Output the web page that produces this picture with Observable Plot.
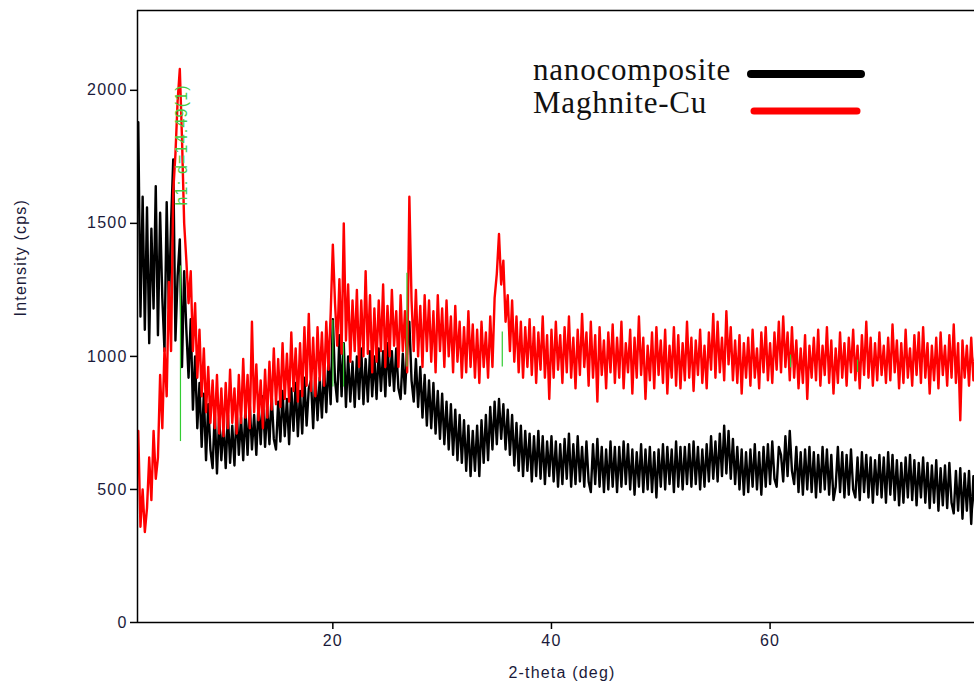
<!DOCTYPE html>
<html>
<head>
<meta charset="utf-8">
<script src="https://cdn.jsdelivr.net/npm/d3@7"></script>
<script src="https://cdn.jsdelivr.net/npm/@observablehq/plot@0.6"></script>
<style>
  html, body { margin: 0; padding: 0; background: #fff; }
  #chart { position: relative; width: 974px; height: 686px; overflow: hidden; }
  #chart svg text { letter-spacing: 1.2px; }
</style>
</head>
<body>
<div id="chart"></div>
<script>
// 2-theta sampling of the scans (degrees)
const thetaStart = 2.2;
const thetaStep = 0.2;

// Intensity (cps), one value per 0.2° step, one line per degree
const nanocomposite = [
  1880, 1150, 1600, 1100,
  1560, 1050, 1480, 1180, 1640,
  1080, 1540, 1220, 1020, 1580,
  1180, 1500, 1740, 1060, 1300,
  1440, 960, 1320, 1100, 920,
  1140, 800, 1000, 730, 900,
  660, 860, 610, 820, 650,
  580, 790, 560, 770, 610,
  750, 580, 780, 600, 740,
  590, 800, 630, 770, 610,
  800, 630, 820, 650, 780,
  630, 820, 670, 850, 660,
  810, 670, 860, 690, 650,
  830, 680, 870, 700, 840,
  670, 880, 720, 900, 700,
  870, 710, 920, 740, 880,
  910, 730, 940, 760, 920,
  770, 960, 790, 990, 820,
  1140, 910, 830, 1080, 850,
  1050, 810, 1000, 830, 980,
  810, 1000, 840, 1030, 820,
  990, 830, 1020, 850, 1000,
  840, 1030, 870, 1020, 850,
  1050, 890, 1020, 870, 1030,
  880, 840, 1010, 860, 1030,
  1130, 910, 830, 990, 810,
  960, 770, 930, 740, 910,
  730, 900, 710, 870, 690,
  860, 670, 830, 650, 820,
  630, 800, 610, 780, 600,
  760, 570, 740, 550, 720,
  570, 740, 550, 760, 600,
  780, 610, 810, 650, 830,
  670, 840, 690, 820, 650,
  800, 630, 780, 590, 750,
  570, 740, 550, 720, 570,
  710, 530, 700, 550, 720,
  540, 700, 520, 680, 550,
  700, 530, 680, 510, 670,
  520, 690, 540, 710, 510,
  670, 520, 700, 530, 660,
  510, 680, 530, 490, 670,
  520, 690, 510, 660, 490,
  650, 500, 680, 510, 660,
  490, 660, 510, 680, 520,
  670, 500, 650, 480, 640,
  510, 670, 490, 650, 500,
  660, 490, 640, 470, 650,
  510, 670, 500, 660, 520,
  650, 490, 680, 510, 660,
  500, 660, 520, 670, 510,
  680, 520, 660, 500, 650,
  510, 670, 530, 700, 540,
  680, 530, 710, 550, 740,
  560, 720, 540, 690, 520,
  660, 500, 650, 480, 640,
  490, 650, 510, 670, 500,
  640, 480, 660, 510, 670,
  520, 680, 540, 510, 660,
  630, 530, 700, 550, 720,
  570, 520, 660, 490, 640,
  480, 650, 500, 660, 490,
  640, 470, 630, 490, 660,
  500, 650, 480, 630, 460,
  510, 660, 490, 640, 470,
  630, 480, 650, 500, 470,
  620, 460, 640, 490, 630,
  470, 620, 450, 610, 480,
  630, 470, 620, 450, 640,
  480, 630, 460, 610, 440,
  600, 450, 620, 470, 630,
  460, 610, 440, 600, 470,
  620, 450, 600, 430, 590,
  450, 610, 420, 580, 440,
  590, 430, 600, 450, 410,
  570, 420, 580, 390, 560,
  420, 570, 370, 550, 400
];

const maghniteCu = [
  720, 360, 500, 340,
  430, 620, 460, 720, 540,
  620, 930, 730, 1030, 850,
  1280, 1020, 1620, 1760, 1960,
  2080, 1820, 1500, 1360, 1200,
  1320, 1020, 1200, 920, 1100,
  850, 1030, 790, 960, 750,
  910, 730, 930, 710, 880,
  700, 900, 730, 950, 750,
  880, 710, 930, 750, 990,
  770, 930, 730, 1130, 790,
  970, 760, 910, 730, 950,
  770, 980, 800, 1030, 820,
  990, 810, 1050, 840, 1010,
  830, 1090, 870, 1030, 830,
  1050, 850, 1110, 890, 1160,
  870, 1070, 850, 1110, 910,
  1090, 890, 1130, 950, 1160,
  1420, 1200, 1040, 1290, 1010,
  1500, 1060, 1270, 980, 1210,
  1020, 1250, 960, 1210, 1000,
  1320, 1010, 1230, 940, 1180,
  980, 1210, 1020, 1270, 960,
  1190, 1000, 1250, 1040, 1170,
  960, 1230, 1020, 1170, 940,
  1600, 1210, 1020, 1250, 1000,
  1190, 960, 1230, 1020, 1210,
  980, 1170, 940, 1230, 1020,
  1180, 960, 1210, 1000, 1150,
  940, 1190, 980, 1130, 920,
  1110, 940, 1170, 960, 1120,
  920, 1100, 900, 1130, 960,
  1090, 920, 1150, 960, 1220,
  1310, 1460, 1270, 1360, 1130,
  1230, 1020, 1210, 980, 1150,
  940, 1130, 920, 1110, 960,
  1140, 930, 1110, 900, 1090,
  950, 1150, 920, 1080, 840,
  1100, 920, 1130, 950, 1080,
  900, 1110, 940, 1150, 920,
  1070, 880, 1100, 930, 1160,
  960, 1090, 890, 1130, 920,
  1080, 830, 1110, 930, 1060,
  880, 1090, 940, 1120, 900,
  1070, 920, 1130, 880, 1050,
  940, 1100, 860, 1070, 920,
  1150, 930, 1070, 840, 1040,
  910, 1090, 880, 1110, 930,
  1060, 900, 1100, 860, 1040,
  920, 1110, 890, 1080, 880,
  1050, 910, 1130, 920, 1070,
  870, 1060, 930, 1100, 900,
  1040, 880, 1090, 950, 1160,
  920, 1130, 940, 1070, 910,
  1170, 970, 1110, 910, 1060,
  900, 1080, 860, 1050, 920,
  1070, 890, 1100, 920, 1030,
  880, 1090, 940, 1110, 910,
  1050, 900, 1090, 950, 1130,
  940, 1150, 960, 1090, 910,
  1110, 920, 1060, 880, 1030,
  900, 1080, 840, 1040, 920,
  1070, 910, 1100, 890, 1040,
  930, 1110, 900, 1060, 860,
  1030, 900, 1090, 920, 1050,
  890, 1070, 940, 1100, 910,
  1040, 880, 1080, 930, 1130,
  920, 1070, 890, 1050, 910,
  1090, 930, 1040, 900, 1070,
  910, 1120, 940, 1060, 880,
  1050, 900, 1100, 920, 1030,
  890, 1080, 930, 1090, 900,
  1110, 920, 1050, 860, 1040,
  910, 1070, 880, 1090, 930,
  1040, 890, 1080, 920, 1120,
  900, 1050, 760, 1060, 920,
  1040, 890, 1070, 910, 1020
];

// Green reference-peak markers (2θ, intensity range)
const peakTheta = [6.06, 20.0, 20.98, 26.78, 35.5, 61.87, 68.0];
const peakLow   = [680, 885, 885, 960, 960, 957, 940];
const peakHigh  = [1340, 1136, 1050, 1313, 1092, 1005, 986];
const peakLabel = "h1: d=14.49(1)";

const seriesNames = ["nanocomposite", "Maghnite-Cu"];
const seriesColors = ["#000000", "#ff0000"];
const yTicks = [0, 500, 1000, 1500, 2000];
const xTicks = [20, 40, 60];

const rows = nanocomposite.map((v, i) => ({
  t: +(thetaStart + i * thetaStep).toFixed(2),
  nano: v,
  mag: maghniteCu[i]
}));
const peaks = peakTheta.map((t, i) => ({t, lo: peakLow[i], hi: peakHigh[i]}));

const xDomain = [2.13, 78.7];
const yDomain = [0, 2300];

const plot = Plot.plot({
  width: 974,
  height: 686,
  marginLeft: 137,
  marginRight: 0,
  marginTop: 10,
  marginBottom: 64,
  x: {domain: xDomain},
  y: {domain: yDomain},
  style: {
    fontFamily: "'Liberation Sans', Arial, sans-serif",
    fontSize: "16px",
    color: "#1a1a3a",
    background: "#ffffff",
    overflow: "visible"
  },
  marks: [
    Plot.line(rows, {x: "t", y: "nano", stroke: seriesColors[0], strokeWidth: 2.4, clip: true}),
    Plot.line(rows, {x: "t", y: "mag", stroke: seriesColors[1], strokeWidth: 2.4, clip: true}),
    Plot.ruleX(peaks, {x: "t", y1: "lo", y2: "hi", stroke: "#33cc33", strokeWidth: 1.2}),
    Plot.text([peakLabel], {x: 6.2, y: 1795, rotate: -90, fill: "#44cc44", fontSize: 16, textAnchor: "middle"}),
    Plot.ruleY([yDomain[1]], {stroke: "#000", strokeWidth: 1.5}),
    Plot.ruleY([0], {stroke: "#000", strokeWidth: 1.5}),
    Plot.ruleX([xDomain[0]], {stroke: "#000", strokeWidth: 1.5}),
    Plot.axisX({ticks: xTicks, tickSize: 7, tickPadding: 5, fontSize: 16, label: null, strokeWidth: 1.5, stroke: "#000", fill: "#1a1a3a"}),
    Plot.axisY({ticks: yTicks, tickSize: 7, tickPadding: 3, fontSize: 16, tickFormat: d => String(d), label: null, strokeWidth: 1.5, stroke: "#000", fill: "#1a1a3a"}),
    Plot.text(["2-theta (deg)"], {frameAnchor: "bottom", dx: 6, dy: 55, fontSize: 16, fill: "#1a1a3a"}),
    Plot.text(["Intensity (cps)"], {frameAnchor: "left", dx: -117, rotate: -90, fontSize: 16, fill: "#1a1a3a"})
  ]
});

document.getElementById("chart").appendChild(plot);

// Legend (drawn on top of the plot, upper right)
const svg = d3.select(plot);
const legend = svg.append("g")
  .attr("font-family", "'Liberation Serif', 'Times New Roman', serif")
  .attr("font-size", 31)
  .attr("text-anchor", "start");
const legendRows = [
  {name: seriesNames[0], color: seriesColors[0], ty: 80, ly: 74, x1: 751, x2: 861, w: 8},
  {name: seriesNames[1], color: seriesColors[1], ty: 113, ly: 111, x1: 754, x2: 857, w: 7}
];
legendRows.forEach(r => {
  legend.append("text").attr("x", 533).attr("y", r.ty).attr("fill", "#111")
    .style("letter-spacing", "0.8px").text(r.name);
  legend.append("line")
    .attr("x1", r.x1).attr("x2", r.x2).attr("y1", r.ly).attr("y2", r.ly)
    .attr("stroke", r.color).attr("stroke-width", r.w).attr("stroke-linecap", "round");
});
</script>
</body>
</html>
